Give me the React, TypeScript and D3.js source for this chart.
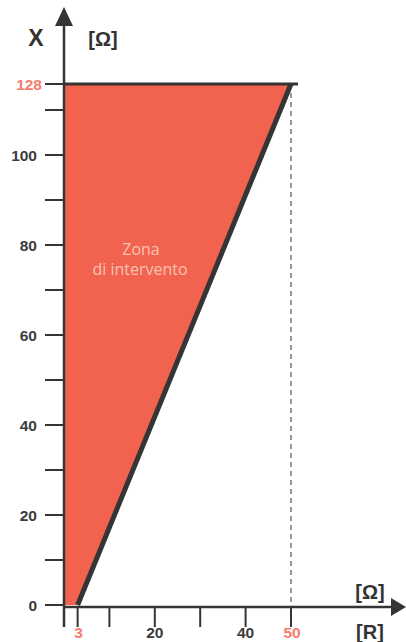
import React from "react";
import * as d3 from "d3";

const yTicks = [0, 10, 20, 30, 40, 50, 60, 70, 80, 90, 100, 110];
const yLabels = [0, 20, 40, 60, 80, 100];
const xTicks = [0, 3, 10, 20, 30, 40, 50];
const xLabels = [20, 40];
const xHighlight = [3, 50];
const yHighlight = [128];
const zone = [
  { r: 0, x: 0 },
  { r: 3, x: 0 },
  { r: 50, x: 128 },
  { r: 0, x: 128 },
];
const boundary = [
  { r: 3, x: 0 },
  { r: 50, x: 128 },
];

const W = 406;
const H = 642;
const dark = "#353535";
const salmon = "#f47d6c";
const fill = "#f2634f";
const font = "Liberation Sans, Arial, sans-serif";

export default function App() {
  const x = d3.scaleLinear().domain([0, 50]).range([64, 291]);
  const y = d3.scaleLinear().domain([0, 110, 128]).range([605, 110, 84]);
  const area = d3
    .line<{ r: number; x: number }>()
    .x((d) => x(d.r))
    .y((d) => y(d.x));
  const axisY = 607;
  return (
    <svg
      width={W}
      height={H}
      style={{ position: "absolute", left: 0, top: 0, background: "#fff" }}
      fontFamily={font}
    >
      <path d={area(zone) + "Z"} fill={fill} />
      <line
        x1={x(50)}
        x2={x(50)}
        y1={y(128)}
        y2={axisY}
        stroke="#555"
        strokeWidth={1.2}
        strokeDasharray="5,4"
      />
      <line x1={x(0)} x2={x(50) + 7} y1={y(128)} y2={y(128)} stroke={dark} strokeWidth={3} />
      <path d={area(boundary) ?? ""} stroke={dark} strokeWidth={5} fill="none" />
      <line x1={x(0)} x2={x(0)} y1={22} y2={627} stroke={dark} strokeWidth={2.5} />
      <path d={`M${x(0)},7 L${x(0) - 9},26 L${x(0) + 9},26 Z`} fill={dark} />
      <line x1={x(0)} x2={395} y1={axisY} y2={axisY} stroke={dark} strokeWidth={2.5} />
      <path d={`M406,${axisY} L391,${axisY - 9} L391,${axisY + 9} Z`} fill={dark} />
      {yTicks.map((t) => (
        <line key={"yt" + t} x1={45} x2={x(0)} y1={y(t)} y2={y(t)} stroke={dark} strokeWidth={2} />
      ))}
      <line x1={45} x2={x(0)} y1={y(128)} y2={y(128)} stroke={dark} strokeWidth={2} />
      {yLabels.map((t) => (
        <text
          key={"yl" + t}
          x={37}
          y={y(t)}
          dy="0.36em"
          textAnchor="end"
          fontSize={15.5}
          fontWeight="bold"
          fill="#3c3c3c"
        >
          {t}
        </text>
      ))}
      {yHighlight.map((t) => (
        <text
          key={"yh" + t}
          x={42}
          y={y(t)}
          dy="0.36em"
          textAnchor="end"
          fontSize={15.5}
          fontWeight="bold"
          fill={salmon}
        >
          {t}
        </text>
      ))}
      {xTicks.map((t) => (
        <line key={"xt" + t} x1={x(t)} x2={x(t)} y1={axisY} y2={627} stroke={dark} strokeWidth={2} />
      ))}
      {xLabels.map((t) => (
        <text
          key={"xl" + t}
          x={x(t)}
          y={638}
          textAnchor="middle"
          fontSize={15.5}
          fontWeight="bold"
          fill="#3c3c3c"
        >
          {t}
        </text>
      ))}
      {xHighlight.map((t) => (
        <text
          key={"xh" + t}
          x={x(t) + 1}
          y={638}
          textAnchor="middle"
          fontSize={15.5}
          fontWeight="bold"
          fill={salmon}
        >
          {t}
        </text>
      ))}
      <text x={36} y={46} textAnchor="middle" fontSize={23} fontWeight="bold" fill="#333">
        X
      </text>
      <text x={103} y={46} textAnchor="middle" fontSize={20} fontWeight="bold" fill="#333">
        [Ω]
      </text>
      <text x={370} y={599} textAnchor="middle" fontSize={20} fontWeight="bold" fill="#333">
        [Ω]
      </text>
      <text x={370} y={639} textAnchor="middle" fontSize={20} fontWeight="bold" fill="#333">
        [R]
      </text>
      <text x={141} y={255} textAnchor="middle" fontSize={16} fill="#f9c2b4" fontFamily="Open Sans, sans-serif">
        Zona
      </text>
      <text x={140} y={275} textAnchor="middle" fontSize={16} fill="#f9c2b4" fontFamily="Open Sans, sans-serif">
        di intervento
      </text>
    </svg>
  );
}
